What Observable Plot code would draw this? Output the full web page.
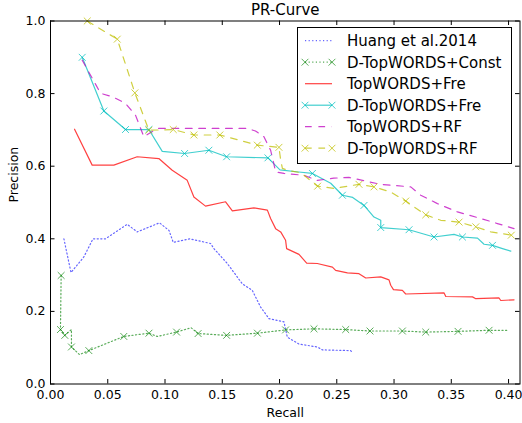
<!DOCTYPE html>
<html><head><meta charset="utf-8">
<script src="https://cdn.jsdelivr.net/npm/d3@7"></script>
<script src="https://cdn.jsdelivr.net/npm/@observablehq/plot@0.6"></script>
<style>html,body{margin:0;padding:0;background:#fff;} svg{display:block;}</style>
</head><body><div id="chart"></div>
<script>
// ---- data (recall, precision) ----
const seriesNames = ["Huang et al.2014","D-TopWORDS+Const","TopWORDS+Fre","D-TopWORDS+Fre","TopWORDS+RF","D-TopWORDS+RF"];
const xTicks = [0,0.05,0.10,0.15,0.20,0.25,0.30,0.35,0.40];
const yTicks = [0,0.2,0.4,0.6,0.8,1.0];

const huang = [[0.0117,0.400],[0.0179,0.307],[0.0291,0.350],[0.0371,0.400],[0.0481,0.400],[0.0670,0.440],[0.0757,0.419],[0.0952,0.444],[0.1035,0.423],[0.1072,0.390],[0.1215,0.400],[0.1398,0.387],[0.1427,0.373],[0.1544,0.332],[0.1675,0.276],[0.1762,0.258],[0.1835,0.212],[0.1908,0.180],[0.2039,0.171],[0.2068,0.129],[0.2170,0.110],[0.2330,0.102],[0.2374,0.094],[0.2621,0.092],[0.2636,0.086]];

const dConst = [[0.0093,0.299],[0.0087,0.150],[0.0125,0.134],[0.0183,0.150],[0.0183,0.102],[0.0253,0.081],[0.0335,0.092],[0.0640,0.131],[0.0860,0.140],[0.0932,0.131],[0.1101,0.143],[0.1228,0.155],[0.1289,0.139],[0.1538,0.134],[0.1807,0.140],[0.2053,0.149],[0.2301,0.152],[0.2578,0.150],[0.2790,0.146],[0.3073,0.146],[0.3277,0.143],[0.3559,0.145],[0.3830,0.148],[0.4005,0.148]];
const dConstMarks = [[0.0093,0.299],[0.0087,0.150],[0.0125,0.134],[0.0183,0.102],[0.0335,0.092],[0.0640,0.131],[0.0860,0.140],[0.1101,0.143],[0.1289,0.139],[0.1538,0.134],[0.1807,0.140],[0.2053,0.149],[0.2301,0.152],[0.2578,0.150],[0.2790,0.146],[0.3073,0.146],[0.3277,0.143],[0.3559,0.145],[0.3830,0.148]];

const topFre = [[0.0210,0.702],[0.0364,0.603],[0.0553,0.603],[0.0757,0.626],[0.0946,0.621],[0.1063,0.589],[0.1194,0.561],[0.1252,0.515],[0.1354,0.490],[0.1529,0.502],[0.1588,0.477],[0.1777,0.485],[0.1894,0.479],[0.1922,0.456],[0.1966,0.428],[0.2010,0.419],[0.2053,0.396],[0.2062,0.373],[0.2170,0.357],[0.2237,0.333],[0.2330,0.332],[0.2462,0.322],[0.2490,0.313],[0.2593,0.306],[0.2694,0.304],[0.2753,0.292],[0.2884,0.295],[0.2956,0.287],[0.2971,0.272],[0.2995,0.260],[0.3073,0.258],[0.3102,0.248],[0.3437,0.251],[0.3452,0.241],[0.3685,0.240],[0.3714,0.235],[0.3917,0.237],[0.3932,0.230],[0.4048,0.232]];

const dFre = [[0.0277,0.900],[0.0466,0.752],[0.0655,0.701],[0.0859,0.701],[0.0976,0.641],[0.1171,0.635],[0.1383,0.644],[0.1538,0.626],[0.1899,0.623],[0.2004,0.590],[0.2167,0.584],[0.2287,0.580],[0.2447,0.553],[0.2549,0.520],[0.2639,0.514],[0.2738,0.492],[0.2825,0.460],[0.2884,0.451],[0.2884,0.431],[0.3131,0.425],[0.3349,0.405],[0.3524,0.412],[0.3597,0.405],[0.3729,0.402],[0.3786,0.385],[0.3860,0.382],[0.3947,0.373],[0.4020,0.366]];
const dFreMarks = [[0.0277,0.900],[0.0466,0.752],[0.0655,0.701],[0.0859,0.701],[0.1171,0.635],[0.1383,0.644],[0.1538,0.626],[0.1899,0.623],[0.2287,0.580],[0.2549,0.520],[0.2738,0.492],[0.2884,0.431],[0.3131,0.425],[0.3349,0.405],[0.3597,0.405],[0.3860,0.382]];

const topRF = [[0.0277,0.892],[0.0437,0.801],[0.0550,0.790],[0.0655,0.773],[0.0743,0.740],[0.0815,0.681],[0.0932,0.704],[0.1719,0.704],[0.1790,0.697],[0.1864,0.681],[0.1922,0.644],[0.1950,0.607],[0.1966,0.584],[0.2039,0.580],[0.2213,0.575],[0.2330,0.561],[0.2473,0.567],[0.2607,0.569],[0.2884,0.550],[0.3146,0.543],[0.3233,0.520],[0.3379,0.497],[0.3554,0.474],[0.3757,0.456],[0.3903,0.442],[0.4048,0.428]];

const dRF = [[0.0321,1.000],[0.0583,0.950],[0.0737,0.802],[0.0859,0.699],[0.1072,0.701],[0.1252,0.686],[0.1479,0.686],[0.1806,0.658],[0.1995,0.652],[0.2010,0.617],[0.2025,0.594],[0.2082,0.588],[0.2185,0.582],[0.2333,0.545],[0.2476,0.539],[0.2694,0.550],[0.2825,0.543],[0.2971,0.529],[0.3102,0.504],[0.3175,0.488],[0.3277,0.466],[0.3408,0.451],[0.3568,0.446],[0.3714,0.433],[0.3845,0.419],[0.4024,0.410]];
const dRFMarks = [[0.0321,1.000],[0.0583,0.950],[0.0737,0.802],[0.0859,0.699],[0.1072,0.701],[0.1252,0.686],[0.1479,0.686],[0.1806,0.658],[0.1995,0.652],[0.2333,0.545],[0.2694,0.550],[0.2825,0.543],[0.3102,0.504],[0.3277,0.466],[0.3568,0.446],[0.3714,0.433],[0.4024,0.410]];

const lines = [huang, dConst, topFre, dFre, topRF, dRF];
const marks = [null, dConstMarks, null, dFreMarks, null, dRFMarks];

// ---- styles ----
const styles = [
  {color:"#0000ff", opacity:0.6, width:1.2, dash:"1.2,2.4"},
  {color:"#008000", opacity:0.65, width:1.2, dash:"1.2,2.4"},
  {color:"#ff0000", opacity:0.75, width:1.2, dash:null},
  {color:"#00bfbf", opacity:0.75, width:1.2, dash:null},
  {color:"#bf00bf", opacity:0.75, width:1.2, dash:"6.7,6.7"},
  {color:"#bfbf00", opacity:0.75, width:1.2, dash:"6.7,6.7"}
];

const W=522, H=423, mL=50, mR=2.5, mT=20.5, mB=39.5;
const plotW = W-mL-mR, plotH = H-mT-mB;

const lineMarks = lines.map((d,i)=>Plot.line(d,{x:p=>p[0], y:p=>p[1], stroke:styles[i].color, strokeOpacity:styles[i].opacity, strokeWidth:styles[i].width, strokeDasharray:styles[i].dash||undefined}));
const dotMarks = marks.map((d,i)=> d ? Plot.dot(d,{x:p=>p[0], y:p=>p[1], symbol:"times", r:3.2, stroke:styles[i].color, strokeOpacity:styles[i].opacity, strokeWidth:1}) : null).filter(Boolean);

const plot = Plot.plot({
  width:W, height:H, marginLeft:mL, marginRight:mR, marginTop:mT, marginBottom:mB,
  style:{fontFamily:"'DejaVu Sans', sans-serif", fontSize:"12.5px", background:"white", color:"black", overflow:"visible"},
  x:{domain:[0,0.41]}, y:{domain:[0,1]},
  marks:[
    ...lineMarks,
    ...dotMarks,
    Plot.frame({stroke:"black", strokeWidth:1}),
    Plot.tickX(xTicks,{x:d=>d, insetTop:plotH-4.5, stroke:"black"}),
    Plot.tickX(xTicks,{x:d=>d, insetBottom:plotH-4.5, stroke:"black"}),
    Plot.tickY(yTicks,{y:d=>d, insetRight:plotW-4.5, stroke:"black"}),
    Plot.tickY(yTicks,{y:d=>d, insetLeft:plotW-4.5, stroke:"black"}),
    Plot.axisX({ticks:xTicks, tickSize:0, tickPadding:6, tickFormat:d3.format(".2f"), label:null, fontSize:12.5}),
    Plot.axisY({ticks:yTicks, tickSize:0, tickPadding:5, tickFormat:d3.format(".1f"), label:null, fontSize:12.5}),
    Plot.text(["Recall"],{text:d=>d, frameAnchor:"bottom", lineAnchor:"middle", dy:29, fontSize:12.5}),
    Plot.text(["Precision"],{text:d=>d, frameAnchor:"left", lineAnchor:"middle", dx:-36.5, rotate:-90, fontSize:12.5}),
    Plot.text(["PR-Curve"],{text:d=>d, frameAnchor:"top", lineAnchor:"middle", dy:-10.5, fontSize:15})
  ]
});

// ---- legend ----
const svg = d3.select(plot);
const g = svg.append("g").attr("font-family","'DejaVu Sans', sans-serif").attr("font-size",15).attr("text-anchor","start");
g.append("rect").attr("x",297.5).attr("y",27.5).attr("width",214).attr("height",136).attr("fill","white").attr("stroke","black").attr("stroke-width",1);
const xPath = "M-3.4,-3.4L3.4,3.4M-3.4,3.4L3.4,-3.4";
seriesNames.forEach((name,i)=>{
  const y = 40.7 + i*21.5, s = styles[i];
  const ln = g.append("line").attr("x1",305).attr("x2",332).attr("y1",y).attr("y2",y)
    .attr("stroke",s.color).attr("stroke-opacity",s.opacity).attr("stroke-width",s.width);
  if (s.dash) ln.attr("stroke-dasharray",s.dash);
  if (marks[i]) [305,332].forEach(x=>{
    g.append("path").attr("d",xPath).attr("transform",`translate(${x},${y})`)
      .attr("fill","none").attr("stroke",s.color).attr("stroke-opacity",s.opacity).attr("stroke-width",1);
  });
  g.append("text").attr("x",347).attr("y",y).attr("dy","0.36em").attr("fill","black").attr("text-anchor","start").text(name);
});

document.getElementById("chart").appendChild(plot);
</script>
</body></html>
